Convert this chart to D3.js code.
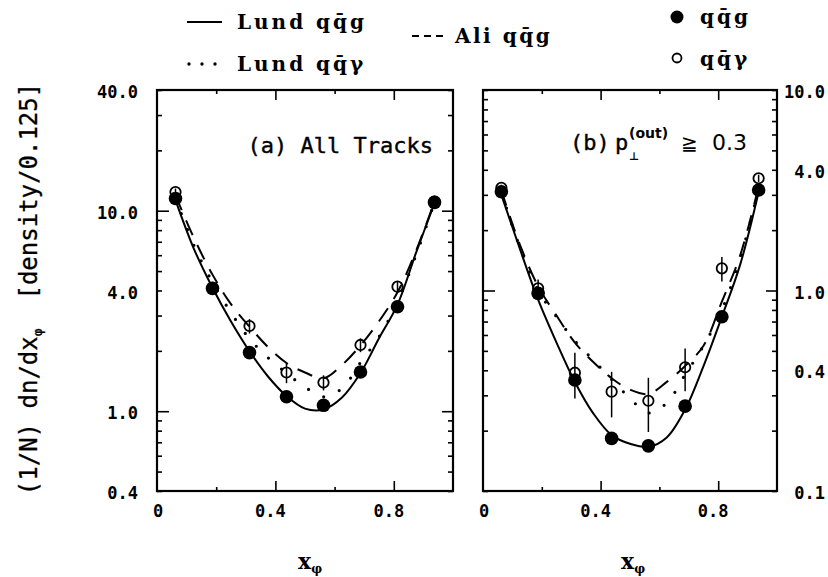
<!DOCTYPE html>
<html>
<head>
<meta charset="utf-8">
<script src="https://cdn.jsdelivr.net/npm/d3@7"></script>
<style>
  body { margin: 0; background: #fff; }
  svg { display: block; }
  text { fill: #000; }
</style>
</head>
<body>
<svg id="chart" width="828" height="577"></svg>
<script>
// ---- data -------------------------------------------------------------
// bin centres of x_phi (bins of width 0.125)
const binCenters = [0.0625, 0.1875, 0.3125, 0.4375, 0.5625, 0.6875, 0.8125, 0.9375];
// abscissae at which the model curves are tabulated
const curveX = [0.0625, 0.125, 0.1875, 0.25, 0.3125, 0.375, 0.4375, 0.5, 0.5625,
                0.625, 0.6875, 0.75, 0.8125, 0.875, 0.9375];

// (a) all tracks
const allGluon       = [11.5, 4.10, 1.96, 1.18, 1.07, 1.57, 3.32, 11.0];
const allPhoton      = [12.4, 4.12, 2.66, 1.56, 1.39, 2.14, 4.18, 11.1];
const allPhotonErr   = [0.5, 0.2, 0.22, 0.18, 0.12, 0.17, 0.24, 0.5];
const allLundGluon   = [11.3, 6.44, 4.13, 2.80, 1.99, 1.49, 1.19, 1.03, 1.02, 1.17, 1.55, 2.31, 3.4, 6.16, 10.9];
const allLundPhoton  = [11.6, 6.7, 4.4, 3.1, 2.3, 1.85, 1.55, 1.32, 1.18, 1.3, 1.75, 2.35, 3.5, 6.0, 11.0];
const allAliGluon    = [11.9, 7.3, 4.8, 3.42, 2.64, 2.09, 1.74, 1.56, 1.46, 1.70, 2.13, 2.81, 3.92, 6.3, 11.1];

// (b) tracks with p_perp(out) >= 0.3
const cutGluon       = [3.11, 0.968, 0.358, 0.183, 0.168, 0.265, 0.740, 3.17];
const cutPhoton      = [3.25, 1.026, 0.389, 0.313, 0.282, 0.414, 1.29, 3.63];
const cutPhotonErr   = [0.12, 0.11, 0.10, 0.08, 0.085, 0.10, 0.18, 0.15];
const cutLundGluon   = [3.0, 1.62, 0.90, 0.55, 0.35, 0.244, 0.19, 0.172, 0.166, 0.185, 0.255, 0.42, 0.74, 1.35, 3.1];
const cutLundPhoton  = [3.1, 1.65, 1.0, 0.74, 0.56, 0.45, 0.36, 0.29, 0.245, 0.275, 0.38, 0.53, 0.8, 1.45, 3.2];
const cutAliGluon    = [3.15, 1.7, 1.05, 0.75, 0.55, 0.44, 0.365, 0.32, 0.305, 0.35, 0.42, 0.53, 0.88, 1.5, 3.3];

// axis labelling
const allYTicks   = [40, 10, 4, 1, 0.4];
const allYLabels  = ["40.0", "10.0", "4.0", "1.0", "0.4"];
const cutYTicks   = [10, 4, 1, 0.4, 0.1];
const cutYLabels  = ["10.0", "4.0", "1.0", "0.4", "0.1"];
const xTicks      = [0, 0.4, 0.8];
const xLabels     = ["0", "0.4", "0.8"];
const xMajorTicks = [0.4, 0.8];
const xMinorTicks = [0.2, 0.6];

// ---- drawing ----------------------------------------------------------
const MONO = "'DejaVu Sans Mono', monospace";
const SERIF = "'DejaVu Serif', serif";
const SANS = "'DejaVu Sans', sans-serif";
const svg = d3.select("#chart");

const panels = [
  { left: 157, right: 453, top: 90, bottom: 491, yDomain: [0.4, 40], yMajor: [1, 10],
    gluon: allGluon, photon: allPhoton, err: allPhotonErr,
    lundG: allLundGluon, lundP: allLundPhoton, ali: allAliGluon,
    yTicks: allYTicks, yLabels: allYLabels, labelSide: "left" },
  { left: 483, right: 777, top: 90, bottom: 491, yDomain: [0.1, 10], yMajor: [1],
    gluon: cutGluon, photon: cutPhoton, err: cutPhotonErr,
    lundG: cutLundGluon, lundP: cutLundPhoton, ali: cutAliGluon,
    yTicks: cutYTicks, yLabels: cutYLabels, labelSide: "right" }
];

function styleAxis(sel) {
  sel.select(".domain").remove();
  sel.selectAll(".tick line").attr("stroke", "#000").attr("stroke-width", 1.6);
  sel.selectAll(".tick text").remove();
}

panels.forEach(p => {
  const x = d3.scaleLinear().domain([0, 1]).range([p.left, p.right]);
  const y = d3.scaleLog().domain(p.yDomain).range([p.bottom, p.top]);
  const g = svg.append("g");

  // inward log ticks on both vertical edges
  const minor = y.ticks().filter(v => !p.yMajor.includes(v));
  g.append("g").attr("transform", `translate(${p.left},0)`)
    .call(d3.axisLeft(y).tickValues(minor).tickSize(-5)).call(styleAxis);
  g.append("g").attr("transform", `translate(${p.left},0)`)
    .call(d3.axisLeft(y).tickValues(p.yMajor).tickSize(-12)).call(styleAxis);
  g.append("g").attr("transform", `translate(${p.right},0)`)
    .call(d3.axisRight(y).tickValues(minor).tickSize(-5)).call(styleAxis);
  g.append("g").attr("transform", `translate(${p.right},0)`)
    .call(d3.axisRight(y).tickValues(p.yMajor).tickSize(-11)).call(styleAxis);

  // inward ticks on top and bottom edges
  [[d3.axisBottom, p.bottom], [d3.axisTop, p.top]].forEach(([ax, pos]) => {
    g.append("g").attr("transform", `translate(0,${pos})`)
      .call(ax(x).tickValues(xMajorTicks).tickSize(-10)).call(styleAxis);
    g.append("g").attr("transform", `translate(0,${pos})`)
      .call(ax(x).tickValues(xMinorTicks).tickSize(-4)).call(styleAxis);
  });

  // frame
  g.append("rect")
    .attr("x", p.left).attr("y", p.top)
    .attr("width", p.right - p.left).attr("height", p.bottom - p.top)
    .attr("fill", "none").attr("stroke", "#000").attr("stroke-width", 2.2);

  // y tick labels
  const labX = p.labelSide === "left" ? 138 : 825;
  g.selectAll(null).data(p.yTicks).join("text")
    .attr("x", labX).attr("y", d => y(d) + 2)
    .attr("text-anchor", "end").attr("dominant-baseline", "central")
    .attr("font-family", MONO).attr("font-weight", "bold").attr("font-size", 17)
    .text((d, i) => p.yLabels[i]);

  // x tick labels
  g.selectAll(null).data(xTicks).join("text")
    .attr("x", d => x(d) + (d === 0 ? 1 : -5)).attr("y", 511)
    .attr("text-anchor", "middle").attr("dominant-baseline", "central")
    .attr("font-family", MONO).attr("font-weight", "bold").attr("font-size", 17)
    .text((d, i) => xLabels[i]);

  // model curves
  const line = d3.line().x(d => x(d[0])).y(d => y(d[1])).curve(d3.curveCatmullRom.alpha(0.5));
  const pts = arr => curveX.map((u, i) => [u, arr[i]]);
  g.append("path").attr("d", line(pts(p.lundG)))
    .attr("fill", "none").attr("stroke", "#000").attr("stroke-width", 2);
  g.append("path").attr("d", line(pts(p.ali)))
    .attr("fill", "none").attr("stroke", "#000").attr("stroke-width", 2)
    .attr("stroke-dasharray", "16,11");
  g.append("path").attr("d", line(pts(p.lundP)))
    .attr("fill", "none").attr("stroke", "#000").attr("stroke-width", 3.2)
    .attr("stroke-linecap", "round").attr("stroke-dasharray", "0,17");

  // q qbar g data
  g.selectAll(null).data(binCenters).join("circle")
    .attr("cx", d => x(d)).attr("cy", (d, i) => y(p.gluon[i])).attr("r", 6.8)
    .attr("fill", "#000");

  // q qbar gamma data with errors
  g.selectAll(null).data(binCenters).join("line")
    .attr("x1", d => x(d)).attr("x2", d => x(d))
    .attr("y1", (d, i) => y(p.photon[i] + p.err[i]))
    .attr("y2", (d, i) => y(p.photon[i] - p.err[i]))
    .attr("stroke", "#000").attr("stroke-width", 1.5);
  g.selectAll(null).data(binCenters).join("circle")
    .attr("cx", d => x(d)).attr("cy", (d, i) => y(p.photon[i])).attr("r", 5.2)
    .attr("fill", "none").attr("stroke", "#000").attr("stroke-width", 1.8);
});

// panel captions
svg.append("text").attr("x", 433).attr("y", 153).attr("text-anchor", "end")
  .attr("font-family", MONO).attr("font-size", 22).attr("stroke", "#000").attr("stroke-width", 0.4)
  .text("(a) All Tracks");

svg.append("text").attr("x", 570).attr("y", 150).attr("font-family", MONO).attr("font-size", 22)
  .attr("stroke", "#000").attr("stroke-width", 0.4).text("(b)");
const pLabel = svg.append("text").attr("x", 615).attr("y", 150)
  .attr("font-family", MONO).attr("font-size", 22);
pLabel.append("tspan").attr("stroke", "#000").attr("stroke-width", 0.4).text("p");
pLabel.append("tspan").attr("x", 629).attr("dy", 10).attr("font-family", SANS)
  .attr("font-weight", "bold").attr("font-size", 11).text("\u22a5");
pLabel.append("tspan").attr("x", 629).attr("dy", -22).attr("font-family", SANS)
  .attr("font-weight", "bold").attr("font-size", 14).text("(out)");
pLabel.append("tspan").attr("x", 681).attr("dy", 12).attr("font-family", SANS)
  .attr("font-size", 20).text("\u2267");
pLabel.append("tspan").attr("x", 712).attr("font-family", SANS).attr("font-size", 22).text("0.3");

// axis titles
const yTitle = svg.append("text")
  .attr("transform", "translate(37,289) rotate(-90)")
  .attr("text-anchor", "middle")
  .attr("font-family", MONO).attr("font-size", 24)
  .attr("stroke", "#000").attr("stroke-width", 0.3);
yTitle.append("tspan").text("(1/N) dn/dx");
yTitle.append("tspan").attr("font-size", 13).attr("dy", 5).text("\u03c6");
yTitle.append("tspan").attr("dy", -5).text("\u00a0\u00a0[density/0.125]");

[310, 633].forEach(cx => {
  const t = svg.append("text").attr("x", cx).attr("y", 569).attr("text-anchor", "middle")
    .attr("font-family", SERIF).attr("font-weight", "bold").attr("font-size", 22);
  t.append("tspan").text("x");
  t.append("tspan").attr("font-size", 12).attr("dy", 4).text("\u03c6");
});

// legend
const qqg = "qq\u0304g", qqgam = "qq\u0304\u03b3";
const leg = svg.append("g").attr("font-family", SERIF).attr("font-weight", "bold")
  .attr("font-size", 20).attr("letter-spacing", 3);
leg.append("line").attr("x1", 187).attr("x2", 222).attr("y1", 22).attr("y2", 22)
  .attr("stroke", "#000").attr("stroke-width", 2);
leg.append("text").attr("x", 237).attr("y", 29).text("Lund " + qqg);
leg.append("line").attr("x1", 189).attr("x2", 218).attr("y1", 64).attr("y2", 64)
  .attr("stroke", "#000").attr("stroke-width", 3.4).attr("stroke-linecap", "round")
  .attr("stroke-dasharray", "0,13");
leg.append("text").attr("x", 237).attr("y", 71).text("Lund " + qqgam);
leg.append("line").attr("x1", 412).attr("x2", 443).attr("y1", 36).attr("y2", 36)
  .attr("stroke", "#000").attr("stroke-width", 2).attr("stroke-dasharray", "7,5");
leg.append("text").attr("x", 455).attr("y", 43).attr("letter-spacing", 2.5).text("Ali " + qqg);
leg.append("circle").attr("cx", 677).attr("cy", 17).attr("r", 6.5).attr("fill", "#000");
leg.append("text").attr("x", 700).attr("y", 24).text(qqg);
leg.append("circle").attr("cx", 677).attr("cy", 58).attr("r", 4.5).attr("fill", "none")
  .attr("stroke", "#000").attr("stroke-width", 1.8);
leg.append("text").attr("x", 700).attr("y", 66).text(qqgam);
</script>
</body>
</html>
